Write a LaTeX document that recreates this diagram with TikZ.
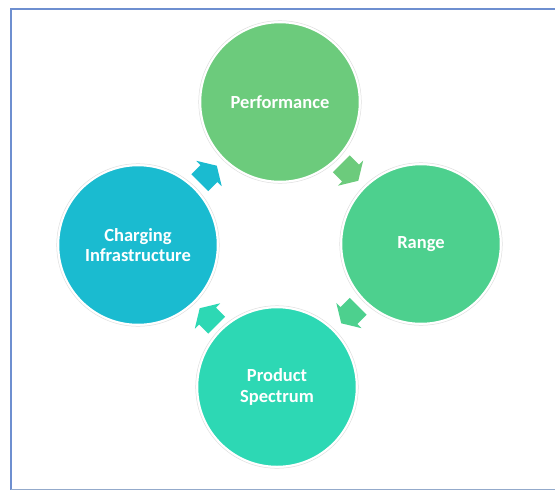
\documentclass[tikz,border=0pt]{standalone}
\usepackage{fontspec}
\setmainfont{Carlito}
\usetikzlibrary{calc}
\definecolor{cPerf}{HTML}{6CCB7C}
\definecolor{cRange}{HTML}{4DD08E}
\definecolor{cProd}{HTML}{2DD8B4}
\definecolor{cChar}{HTML}{1ABBD0}
\definecolor{frameA}{HTML}{6E8FD0}
\definecolor{frameB}{HTML}{93AACB}
\begin{document}
\begin{tikzpicture}[x=1pt,y=-1pt,
  circ/.style={circle, minimum size=159pt, inner sep=0pt, fill=#1, draw=white, line width=1.5pt,
    text=white, font=\bfseries\fontsize{18.5}{20.5}\selectfont, align=center},
  ring/.style={draw=black!13, line width=0.5pt},
  blockarrow/.style={fill=#1, draw=none}]
\useasboundingbox (0,0) rectangle (555,491);
% frame
\draw[frameA, line width=1.7pt] (556,9.3) -- (10.8,9.3) -- (10.8,489.5);
\draw[frameB, line width=1.6pt] (10.8,489.5) -- (556,489.5);
% circles
\node[circ=cPerf] (perf) at (280,102) {Performance};
\node[circ=cRange] (range) at (421,244) {Range};
\node[circ=cProd] (prod) at (277,387) {Product\\Spectrum};
\node[circ=cChar] (char) at (138,245) {Charging\\Infrastructure};
\foreach \n in {perf,range,prod,char}{
  \draw[ring] (\n.center) circle[radius=81.3];
}
% block arrows (clockwise cycle)
\foreach \a/\b/\ang/\col in {char/perf/45/cChar, perf/range/-45/cPerf, range/prod/-135/cRange, prod/char/135/cProd}{
  \path[blockarrow=\col, shift={($(\a)!0.5!(\b)$)}, rotate=\ang]
    (-13,-12) -- (0,-12) -- (0,-18) -- (11,0) -- (0,18) -- (0,12) -- (-13,12) -- cycle;
}
\end{tikzpicture}
\end{document}
